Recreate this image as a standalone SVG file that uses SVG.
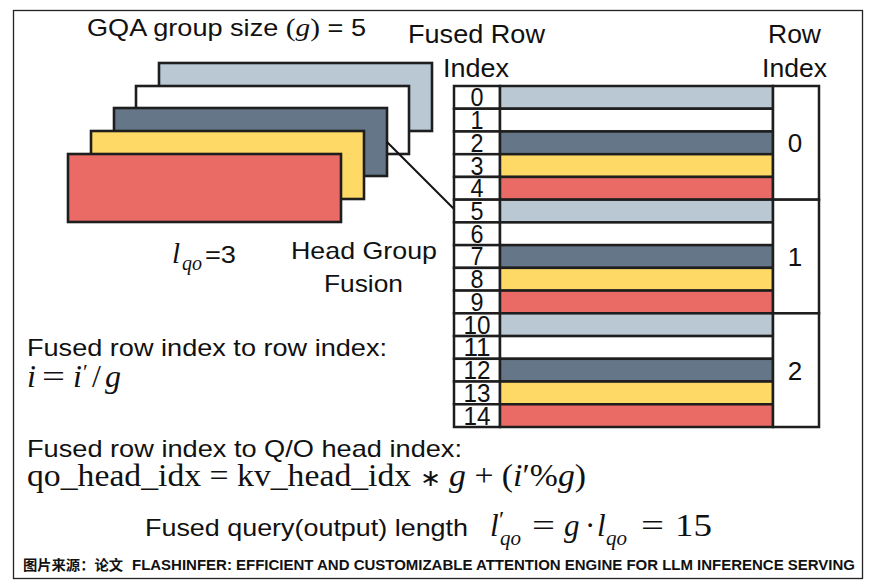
<svg xmlns="http://www.w3.org/2000/svg" width="871" height="581" viewBox="0 0 871 581">
<style>
.sans{font-family:"Liberation Sans",Arial,sans-serif;fill:#111}
.serif{font-family:"Liberation Serif","Times New Roman",serif;fill:#111}
.it{font-style:italic}
.cell{stroke:#1e1e1e;stroke-width:2.5}
.layer{stroke:#1e1e1e;stroke-width:2.6}
.g{fill:#bac8d3}.w{fill:#ffffff}.s{fill:#647687}.y{fill:#ffd966}.r{fill:#ea6b66}
.dig{font-family:"Liberation Sans",Arial,sans-serif;font-size:26px;fill:#111}
.conn{stroke:#111;stroke-width:2;fill:none}
</style>
<rect width="871" height="581" fill="#fff"/>
<rect x="13.5" y="10.5" width="849" height="568" fill="none" stroke="#222" stroke-width="1.3"/>

<g id="head-stack">
  <rect class="layer g" x="159" y="63" width="273" height="68"/>
  <rect class="layer w" x="136" y="86" width="273" height="68"/>
  <rect class="layer s" x="114" y="108" width="273" height="68"/>
  <rect class="layer y" x="91" y="131" width="273" height="68"/>
  <rect class="layer r" x="68" y="154" width="273" height="68"/>
</g>

<g id="connectors">
  <line class="conn" x1="387" y1="142" x2="454" y2="209"/>
</g>

<g id="fused-table">
  <g id="rows">
    <rect class="cell w" x="454" y="86" width="46" height="22.73"/><rect class="cell g" x="500" y="86" width="273" height="22.73"/>
    <rect class="cell w" x="454" y="108.73" width="46" height="22.73"/><rect class="cell w" x="500" y="108.73" width="273" height="22.73"/>
    <rect class="cell w" x="454" y="131.47" width="46" height="22.73"/><rect class="cell s" x="500" y="131.47" width="273" height="22.73"/>
    <rect class="cell w" x="454" y="154.2" width="46" height="22.73"/><rect class="cell y" x="500" y="154.2" width="273" height="22.73"/>
    <rect class="cell w" x="454" y="176.93" width="46" height="22.73"/><rect class="cell r" x="500" y="176.93" width="273" height="22.73"/>
    <rect class="cell w" x="454" y="199.67" width="46" height="22.73"/><rect class="cell g" x="500" y="199.67" width="273" height="22.73"/>
    <rect class="cell w" x="454" y="222.4" width="46" height="22.73"/><rect class="cell w" x="500" y="222.4" width="273" height="22.73"/>
    <rect class="cell w" x="454" y="245.13" width="46" height="22.73"/><rect class="cell s" x="500" y="245.13" width="273" height="22.73"/>
    <rect class="cell w" x="454" y="267.87" width="46" height="22.73"/><rect class="cell y" x="500" y="267.87" width="273" height="22.73"/>
    <rect class="cell w" x="454" y="290.6" width="46" height="22.73"/><rect class="cell r" x="500" y="290.6" width="273" height="22.73"/>
    <rect class="cell w" x="454" y="313.33" width="46" height="22.73"/><rect class="cell g" x="500" y="313.33" width="273" height="22.73"/>
    <rect class="cell w" x="454" y="336.07" width="46" height="22.73"/><rect class="cell w" x="500" y="336.07" width="273" height="22.73"/>
    <rect class="cell w" x="454" y="358.8" width="46" height="22.73"/><rect class="cell s" x="500" y="358.8" width="273" height="22.73"/>
    <rect class="cell w" x="454" y="381.53" width="46" height="22.73"/><rect class="cell y" x="500" y="381.53" width="273" height="22.73"/>
    <rect class="cell w" x="454" y="404.27" width="46" height="22.73"/><rect class="cell r" x="500" y="404.27" width="273" height="22.73"/>
  </g>
  <g id="row-groups">
    <rect class="cell w" x="773" y="86" width="46" height="113.67"/>
    <rect class="cell w" x="773" y="199.67" width="46" height="113.66"/>
    <rect class="cell w" x="773" y="313.33" width="46" height="113.67"/>
  </g>
  <g id="fused-index-labels">
    <text class="dig" x="470.5" y="106.3" textLength="13" lengthAdjust="spacingAndGlyphs">0</text>
    <text class="dig" x="470.5" y="129" textLength="13" lengthAdjust="spacingAndGlyphs">1</text>
    <text class="dig" x="470.5" y="151.8" textLength="13" lengthAdjust="spacingAndGlyphs">2</text>
    <text class="dig" x="470.5" y="174.5" textLength="13" lengthAdjust="spacingAndGlyphs">3</text>
    <text class="dig" x="470.5" y="197.2" textLength="13" lengthAdjust="spacingAndGlyphs">4</text>
    <text class="dig" x="470.5" y="220" textLength="13" lengthAdjust="spacingAndGlyphs">5</text>
    <text class="dig" x="470.5" y="242.7" textLength="13" lengthAdjust="spacingAndGlyphs">6</text>
    <text class="dig" x="470.5" y="265.4" textLength="13" lengthAdjust="spacingAndGlyphs">7</text>
    <text class="dig" x="470.5" y="288.2" textLength="13" lengthAdjust="spacingAndGlyphs">8</text>
    <text class="dig" x="470.5" y="310.9" textLength="13" lengthAdjust="spacingAndGlyphs">9</text>
    <text class="dig" x="463.5" y="333.6" textLength="27" lengthAdjust="spacingAndGlyphs">10</text>
    <text class="dig" x="463.5" y="356.4" textLength="27" lengthAdjust="spacingAndGlyphs">11</text>
    <text class="dig" x="463.5" y="379.1" textLength="27" lengthAdjust="spacingAndGlyphs">12</text>
    <text class="dig" x="463.5" y="401.8" textLength="27" lengthAdjust="spacingAndGlyphs">13</text>
    <text class="dig" x="463.5" y="424.6" textLength="27" lengthAdjust="spacingAndGlyphs">14</text>
  </g>
  <g id="row-index-labels">
    <text class="sans" x="795" y="152" font-size="26" text-anchor="middle">0</text>
    <text class="sans" x="795" y="266" font-size="26" text-anchor="middle">1</text>
    <text class="sans" x="795" y="379.5" font-size="26" text-anchor="middle">2</text>
  </g>
</g>

<g id="labels">
  <text class="sans" x="87" y="36" font-size="24" textLength="279" lengthAdjust="spacingAndGlyphs">GQA group size <tspan class="serif" font-size="26">(</tspan><tspan class="serif it" font-size="26">g</tspan><tspan class="serif" font-size="26">)</tspan> = 5</text>
  <text class="sans" x="408" y="43" font-size="25" textLength="137" lengthAdjust="spacingAndGlyphs">Fused Row</text>
  <text class="sans" x="443" y="77" font-size="25" textLength="66" lengthAdjust="spacingAndGlyphs">Index</text>
  <text class="sans" x="768" y="43" font-size="25" textLength="53" lengthAdjust="spacingAndGlyphs">Row</text>
  <text class="sans" x="762" y="77" font-size="25" textLength="65" lengthAdjust="spacingAndGlyphs">Index</text>
  <text class="sans" x="291" y="259" font-size="24" textLength="146" lengthAdjust="spacingAndGlyphs">Head Group</text>
  <text class="sans" x="324" y="292" font-size="24" textLength="79" lengthAdjust="spacingAndGlyphs">Fusion</text>
  <text class="serif it" x="172" y="263" font-size="29">l</text>
  <text class="serif it" x="182" y="270" font-size="20">qo</text>
  <text class="sans" x="205" y="263" font-size="23" textLength="31" lengthAdjust="spacingAndGlyphs">=3</text>
</g>

<g id="formulas">
  <text class="sans" x="27" y="356" font-size="24" textLength="360" lengthAdjust="spacingAndGlyphs">Fused row index to row index:</text>
  <g id="eq-row" class="serif">
    <text class="serif it" x="27" y="387" font-size="32">i</text>
    <text class="serif" x="42" y="387" font-size="32" textLength="23" lengthAdjust="spacingAndGlyphs">=</text>
    <text class="serif it" x="73" y="387" font-size="32">i</text>
    <text class="serif" x="83" y="379" font-size="22">′</text>
    <text class="serif" x="92" y="387" font-size="32">/</text>
    <text class="serif it" x="105" y="387" font-size="32">g</text>
  </g>
  <text class="sans" x="27" y="457" font-size="24" textLength="435" lengthAdjust="spacingAndGlyphs">Fused row index to Q/O head index:</text>
  <text class="serif" x="27" y="486" font-size="32" textLength="559" lengthAdjust="spacingAndGlyphs">qo_head_idx = kv_head_idx <tspan font-size="24" font-family="'Liberation Serif',serif">∗</tspan> <tspan class="it">g</tspan> + (<tspan class="it">i</tspan>′%<tspan class="it">g</tspan>)</text>
  <text class="sans" x="145" y="536" font-size="24" textLength="323" lengthAdjust="spacingAndGlyphs">Fused query(output) length</text>
  <g id="fused-length-math" class="serif">
    <text class="serif it" x="490" y="536" font-size="31">l</text>
    <text class="serif" x="499" y="527" font-size="24">′</text>
    <text class="serif it" x="500" y="545" font-size="21">qo</text>
    <text class="serif" x="532" y="536" font-size="31" textLength="23" lengthAdjust="spacingAndGlyphs">=</text>
    <text class="serif it" x="564" y="536" font-size="31">g</text>
    <text class="serif" x="585" y="536" font-size="31">·</text>
    <text class="serif it" x="597" y="536" font-size="31">l</text>
    <text class="serif it" x="606" y="545" font-size="21">qo</text>
    <text class="serif" x="641" y="536" font-size="31" textLength="23" lengthAdjust="spacingAndGlyphs">=</text>
    <text class="serif" x="675" y="536" font-size="31" textLength="37" lengthAdjust="spacingAndGlyphs">15</text>
  </g>
</g>

<g id="footer">
  <text x="23" y="570" font-family="'Noto Sans CJK SC',sans-serif" font-weight="bold" font-size="14" fill="#111" textLength="100" lengthAdjust="spacingAndGlyphs">图片来源：论文</text>
  <text class="sans" x="132" y="570" font-weight="bold" font-size="15" textLength="723" lengthAdjust="spacingAndGlyphs">FLASHINFER: EFFICIENT AND CUSTOMIZABLE ATTENTION ENGINE FOR LLM INFERENCE SERVING</text>
</g>
</svg>
